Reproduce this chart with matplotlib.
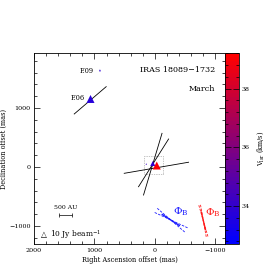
import numpy as np
import matplotlib
matplotlib.use("Agg")
import matplotlib.pyplot as plt
from matplotlib.colors import LinearSegmentedColormap, Normalize
from matplotlib.patches import Rectangle

plt.rcParams['font.family'] = ['DejaVu Serif', 'DejaVu Sans']
plt.rcParams['mathtext.fontset'] = 'dejavuserif'

# --- maser features ---
maser_name = ['F.06', 'F.09', '', '', '']
maser_x = [1065, 909, 35, -31, 142]        # RA offset (mas)
maser_y = [1153, 1639, 59, 25, 51]         # Dec offset (mas)
maser_v = [33.7, 33.9, 34.0, 39.0, 34.2]   # Vlsr (km/s)
maser_flux = [15, 1, 6, 15, 0.5]           # Jy/beam

# --- polarization vectors (black) ---
vec_x = [1070, 35, 22, -25]
vec_y = [1130, 48, 70, -13]
vec_pa = [-48.8, -16.3, -31.6, -80.0]
vec_len = [703, 1090, 950, 1081]

# --- magnetic field directions ---
phib_x = [-263, -802]
phib_y = [-898, -912]
phib_pa = [56.5, 12.9]
phib_err = [8.0, 3.0]
phib_len = [615, 551]
phib_color = ['#1a1aff', '#ff1a1a']

# zoom box
box_x = [-134, 175]
box_y = [-124, 192]

# scale bar
scale_au = 500
dist_kpc = 2.34

vmin, vmax = 32.7, 39.2
cmap = LinearSegmentedColormap.from_list('br', ['#0000ff', '#ff0000'], N=48)
norm = Normalize(vmin, vmax)

fig = plt.figure(figsize=(2.74, 2.74), dpi=100)
bottom = 1 - 244.3 / 274
ax = fig.add_axes([34 / 274, bottom, 191 / 274, 191 / 274])
cax = fig.add_axes([225 / 274, bottom, 13.5 / 274, 191 / 274])

def seg(xc, yc, pa, length):
    t = np.deg2rad(pa)
    dx, dy = np.sin(t) * length / 2, np.cos(t) * length / 2
    return [xc - dx, xc + dx], [yc - dy, yc + dy]

for xc, yc, pa, L in zip(vec_x, vec_y, vec_pa, vec_len):
    xs, ys = seg(xc, yc, pa, L)
    ax.plot(xs, ys, color='black', lw=0.6, zorder=2)

ax.add_patch(Rectangle((box_x[0], box_y[0]), box_x[1] - box_x[0], box_y[1] - box_y[0],
                       fill=False, ls=(0, (1, 1.5)), lw=0.5, ec='#888888', zorder=1))

for xc, yc, pa, err, L, c in zip(phib_x, phib_y, phib_pa, phib_err, phib_len, phib_color):
    for d in (-err, err):
        xs, ys = seg(xc, yc, pa + d, L)
        ax.plot(xs, ys, color=c, lw=0.6, ls=(0, (3, 1.5)), zorder=2)
    xs, ys = seg(xc, yc, pa, L * 0.55)
    ax.plot(xs, ys, color=c, lw=1.0, zorder=2)
    ax.text(xc - 30, yc + 90, r'$\Phi_{\rm B}$', color=c, fontsize=7.5,
            ha='left', va='baseline', zorder=3)

sizes = [f * 2.2 for f in maser_flux]
ax.scatter(maser_x, maser_y, s=sizes, c=maser_v, cmap=cmap, norm=norm,
           marker='^', linewidths=0, zorder=4)

offs = {'F.09': (-4.5, -0.5), 'F.06': (-4.3, 1.0)}
for n, x, y in zip(maser_name, maser_x, maser_y):
    if n:
        ax.annotate(n, (x, y), xytext=offs[n], textcoords='offset points',
                    ha='right', va='center', fontsize=4.8)

# scale bar
sb_len = scale_au / dist_kpc
sb_xc, sb_y = 1475, -814
ax.errorbar([sb_xc], [sb_y], xerr=[sb_len / 2], color='black', lw=0.5,
            capsize=1.2, capthick=0.5, fmt='none')
ax.text(sb_xc, sb_y + 80, f'{scale_au} AU', ha='center', va='bottom', fontsize=4.4)

ax.text(0.037, 0.049, '\u25b3', transform=ax.transAxes, family='DejaVu Sans',
        ha='left', va='center', fontsize=5.5)
ax.text(0.085, 0.049, '10 Jy beam$^{-1}$', transform=ax.transAxes,
        ha='left', va='center', fontsize=5.4)
ax.text(0.948, 0.913, 'IRAS 18089\u22121732', transform=ax.transAxes,
        ha='right', va='center', fontsize=5.8)
ax.text(0.948, 0.813, 'March', transform=ax.transAxes,
        ha='right', va='center', fontsize=5.8)

ax.set_xlim(2000, -1160)
ax.set_ylim(-1310, 1927)
ax.set_xticks([2000, 1000, 0, -1000])
ax.set_yticks([-1000, 0, 1000])
ax.set_xticks(np.arange(-1000, 2001, 200), minor=True)
ax.set_yticks(np.arange(-1200, 1901, 200), minor=True)
ax.tick_params(which='both', direction='in', top=True, right=True, labelsize=4.6,
               width=0.5, pad=2.5)
ax.tick_params(which='major', length=4)
ax.tick_params(which='minor', length=2.2)
ax.set_xlabel('Right Ascension offset (mas)', fontsize=4.7, labelpad=2)
ax.set_ylabel('Declination offset (mas)', fontsize=4.7, labelpad=1)
for s in ax.spines.values():
    s.set_linewidth(0.6)

sm = plt.cm.ScalarMappable(cmap=cmap, norm=norm)
cb = fig.colorbar(sm, cax=cax)
cb.set_ticks([34, 36, 38])
cb.ax.yaxis.set_minor_locator(matplotlib.ticker.MultipleLocator(0.4))
cb.ax.tick_params(which='both', direction='in', left=True, right=True,
                  labelsize=4.6, width=0.5, pad=2.5)
cb.ax.tick_params(which='major', length=4)
cb.ax.tick_params(which='minor', length=2)
cb.outline.set_linewidth(0.6)
cb.set_label('V$_{\\rm lsr}$ (km/s)', fontsize=4.7, labelpad=4)

fig.savefig('out.png', dpi=100)
